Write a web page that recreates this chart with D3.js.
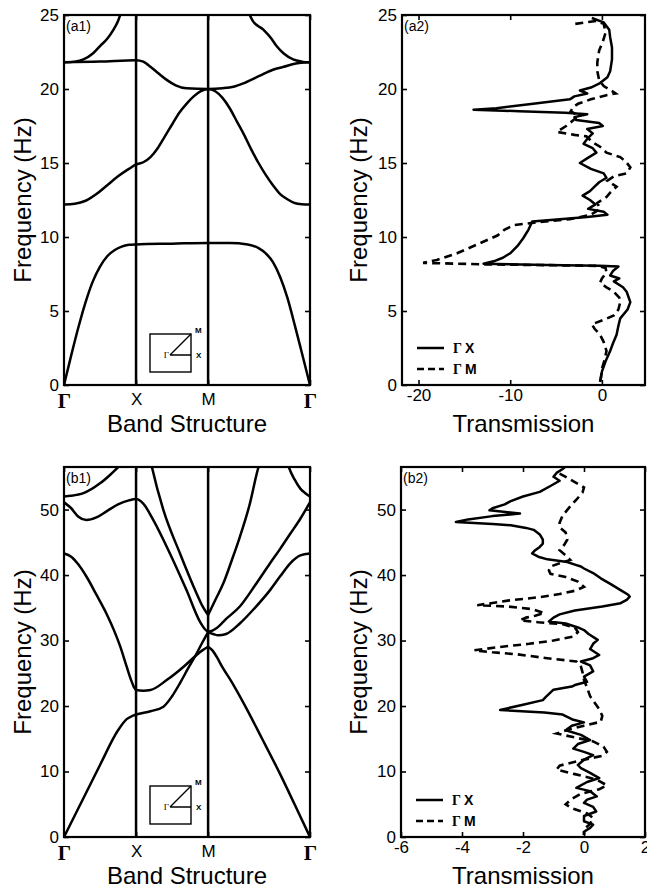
<!DOCTYPE html>
<html>
<head>
<meta charset="utf-8">
<script src="https://cdn.jsdelivr.net/npm/d3@7"></script>
<style>
body { margin: 0; background: #fff; }
</style>
</head>
<body>
<div id="chart"></div>
<script>
// ---- tick data ----
var kTicks = [0, 1, 2, 2 + Math.SQRT2];
var kLabels = ["Γ", "X", "M", "Γ"];
var freqTicksA = [0, 5, 10, 15, 20, 25];
var freqTicksB = [0, 10, 20, 30, 40, 50];
var transTicksA = [-20, -10, 0];
var transTicksB = [-6, -4, -2, 0, 2];

// ---- band structure (a1): [k-path, frequency] ----
var bandA1 = [[0,0],[0.1,2.0],[0.2,3.9],[0.3,5.6],[0.4,7.0],[0.5,8.0],[0.6,8.7],[0.7,9.1],[0.8,9.35],[0.9,9.47],[1,9.5],[1.5,9.55],[2,9.6],[2.3,9.6],[2.55,9.5],[2.7,9.25],[2.8,8.9],[2.9,8.3],[3.0,7.3],[3.1,5.9],[3.2,4.1],[3.3,2.2],[3.414,0]];
var bandA2 = [[0,12.2],[0.15,12.25],[0.3,12.45],[0.45,12.9],[0.6,13.5],[0.75,14.1],[0.9,14.6],[1,14.9],[1.1,15.05],[1.2,15.4],[1.3,16.0],[1.4,16.8],[1.5,17.6],[1.6,18.4],[1.7,19.0],[1.8,19.5],[1.9,19.85],[2,20.0],[2.1,19.85],[2.2,19.4],[2.3,18.7],[2.4,17.8],[2.5,16.9],[2.6,15.9],[2.7,15.0],[2.8,14.2],[2.9,13.5],[3.0,12.9],[3.1,12.55],[3.2,12.3],[3.3,12.22],[3.414,12.2]];
var bandA3 = [[0,21.8],[0.5,21.85],[1,21.95],[1.1,21.85],[1.2,21.5],[1.3,21.1],[1.43,20.6],[1.55,20.25],[1.7,20.05],[2,20.0],[2.2,20.05],[2.35,20.15],[2.5,20.4],[2.72,20.9],[2.9,21.3],[3.05,21.5],[3.2,21.7],[3.414,21.8]];
var bandA4 = [[0,21.8],[0.15,21.85],[0.27,22.0],[0.4,22.4],[0.5,22.9],[0.6,23.4],[0.685,24.0],[0.75,24.6],[0.8,25.3]];
var bandA5 = [[2.55,25.3],[2.62,24.6],[2.77,24.0],[2.88,23.4],[2.95,22.9],[3.05,22.4],[3.18,22.0],[3.3,21.85],[3.414,21.8]];

// ---- band structure (b1) ----
var bandB1 = [[0,0],[0.25,5.5],[0.5,11.0],[0.75,16.3],[0.87,18.0],[0.95,18.5],[1,18.7],[1.2,19.2],[1.38,19.9],[1.5,21.5],[1.61,23.5],[1.72,25.7],[1.84,28.0],[1.92,29.7],[2,31.3]];
var bandB2 = [[0,43.3],[0.1,42.8],[0.2,41.6],[0.315,39.7],[0.45,37.0],[0.59,34.1],[0.7,31.4],[0.78,29.1],[0.87,26.0],[0.93,24.0],[0.97,22.9],[1,22.45],[1.1,22.35],[1.2,22.45],[1.43,24.0],[1.66,26.0],[1.84,27.8],[1.92,28.5],[2,29.05]];
var bandB3 = [[0,51.1],[0.1,50.2],[0.2,48.9],[0.31,48.4],[0.45,48.8],[0.6,49.8],[0.75,50.8],[0.9,51.4],[1,51.6],[1.1,50.9],[1.24,48.4],[1.47,43.3],[1.7,37.7],[1.89,32.8],[1.95,31.8],[2,31.3]];
var bandB4 = [[0,52.0],[0.1,52.1],[0.27,52.5],[0.5,54.0],[0.65,55.4],[0.8,57.0]];
var bandB5 = [[1.2,57.5],[1.22,56.5],[1.38,49.9],[1.61,43.3],[1.84,37.2],[1.92,35.3],[2,33.9]];
var bandB6 = [[2,33.9],[2.1,36.2],[2.21,38.7],[2.33,42.3],[2.44,45.8],[2.57,50.5],[2.7,56.5],[2.72,57.2]];
var bandB7 = [[2,31.3],[2.06,31.5],[2.12,31.9],[2.25,33.3],[2.44,35.2],[2.65,38.4],[2.86,41.8],[3.0,44.0],[3.14,46.3],[3.28,48.6],[3.414,51.1]];
var bandB8 = [[2,31.3],[2.07,31.0],[2.14,30.8],[2.25,31.0],[2.44,32.6],[2.65,35.0],[2.86,37.7],[3.0,39.8],[3.14,41.8],[3.28,43.0],[3.414,43.3]];
var bandB9 = [[3.1,57.2],[3.12,56.5],[3.2,54.6],[3.28,53.2],[3.35,52.5],[3.414,52.0]];
var bandB10 = [[2,29.05],[2.06,28.5],[2.12,27.5],[2.2,25.9],[2.31,24.0],[2.5,20.3],[2.75,15.0],[3.0,9.6],[3.2,5.0],[3.414,0]];

// ---- transmission (a2): [frequency, transmission] ----
var transA_GX = [[24.8,-1.1],[24.5,0.2],[24.0,0.8],[23.5,0.9],[22.8,1.1],[22.0,1.1],[21.2,0.9],[20.8,0.6],[20.4,-0.2],[20.1,-1.2],[19.9,-2.4],[19.7,-1.6],[19.5,-3.0],[19.3,-3.5],[19.0,-7.5],[18.7,-11.5],[18.6,-14.0],[18.5,-9.0],[18.4,-4.0],[18.3,-1.6],[18.1,-3.0],[17.9,-2.8],[17.7,-0.3],[17.5,0.1],[17.3,-1.6],[17.0,-1.0],[16.7,-1.5],[16.3,-2.0],[16.0,-1.0],[15.7,-0.6],[15.4,-1.4],[15.0,-2.4],[14.6,-1.2],[14.3,0.2],[14.0,0.5],[13.7,-0.3],[13.4,-0.8],[13.1,-1.3],[12.8,-2.1],[12.5,-1.3],[12.2,-0.7],[11.9,-1.5],[11.7,0.2],[11.5,0.6],[11.35,-1.6],[11.05,-7.6],[10.5,-8.0],[9.9,-8.6],[9.4,-9.2],[8.9,-10.0],[8.6,-10.8],[8.4,-11.6],[8.2,-12.9],[8.1,-6.0],[8.05,-0.3],[8.0,1.8],[7.7,1.2],[7.4,0.9],[7.2,1.9],[7.0,1.3],[6.6,2.3],[6.3,2.7],[5.6,3.1],[5.1,2.8],[4.5,2.0],[4.0,1.8],[3.4,1.6],[2.8,1.2],[2.3,0.9],[1.6,0.4],[0.9,0.0],[0.2,-0.2]];
var transA_GM = [[24.4,-2.9],[24.5,-1.8],[24.6,-0.6],[24.4,0.2],[23.8,0.4],[23.2,0.1],[22.6,-0.3],[21.8,-0.5],[21.2,-0.5],[20.6,-0.3],[20.2,0.2],[19.9,1.0],[19.7,1.5],[19.6,0.6],[19.3,-1.2],[19.0,-2.6],[18.8,-3.1],[18.5,-3.4],[18.2,-2.6],[17.9,-3.1],[17.5,-3.9],[17.1,-4.9],[16.9,-3.0],[16.8,-1.7],[16.4,-1.0],[16.1,-0.2],[15.7,0.5],[15.4,2.0],[15.1,2.6],[14.7,3.1],[14.3,2.7],[14.1,1.3],[13.8,0.6],[13.4,1.6],[13.0,0.9],[12.7,0.5],[12.3,-0.5],[11.9,-0.2],[11.5,-1.2],[11.2,-3.5],[11.0,-7.0],[10.8,-9.6],[10.5,-10.6],[10.1,-11.4],[9.5,-13.6],[8.9,-15.8],[8.45,-18.0],[8.25,-19.5],[8.2,-16.0],[8.15,-12.6],[8.1,-6.0],[8.05,-0.5],[7.9,0.4],[7.6,0.5],[7.2,0.0],[6.9,-0.2],[6.6,0.5],[6.3,1.3],[5.9,1.9],[5.6,2.0],[5.1,1.8],[4.7,1.3],[4.4,0.2],[4.1,-1.1],[3.8,-0.8],[3.4,-0.2],[2.9,0.2],[2.3,0.5],[1.7,0.3],[1.1,0.0],[0.5,-0.1],[0.2,-0.2]];

// ---- transmission (b2) ----
var transB_GX = [[57,-0.5],[56.2,-0.7],[55.6,-0.9],[55.0,-1.0],[54.4,-0.8],[53.6,-1.1],[52.7,-1.45],[52.0,-2.0],[51.3,-2.4],[50.8,-2.6],[50.2,-3.0],[49.9,-3.1],[49.6,-2.5],[49.4,-2.1],[49.0,-3.0],[48.5,-3.8],[48.1,-4.2],[47.8,-3.0],[47.6,-2.4],[47.2,-1.9],[46.9,-1.65],[46.2,-1.45],[45.4,-1.35],[44.8,-1.35],[44.3,-1.45],[43.8,-1.6],[43.3,-1.7],[42.8,-1.5],[42.4,-1.2],[42.0,-0.55],[41.6,-0.3],[41.3,-0.1],[41.0,0.0],[40.3,0.3],[39.5,0.55],[38.7,0.85],[37.7,1.2],[37.0,1.45],[36.7,1.5],[36.2,1.4],[35.7,1.2],[35.2,0.6],[34.6,-0.3],[34.0,-0.8],[33.5,-1.0],[32.9,-1.15],[32.6,-0.6],[32.0,-0.2],[31.6,0.0],[31.0,0.15],[30.1,0.45],[29.5,0.3],[28.7,0.2],[27.8,0.5],[27.3,0.3],[26.8,-0.1],[26.2,0.2],[25.3,0.3],[24.5,0.0],[23.7,0.1],[23.2,-0.3],[22.97,-0.4],[22.5,-1.0],[21.4,-1.25],[20.9,-1.35],[20.2,-2.0],[19.4,-2.75],[19.0,-1.3],[18.7,-0.7],[17.9,-0.35],[17.5,0.0],[17.0,-0.4],[16.3,-0.6],[15.6,-0.1],[14.8,0.2],[14.2,-0.2],[13.5,-0.35],[13.0,0.0],[12.5,0.3],[11.8,0.0],[11.0,-0.2],[10.5,-0.1],[9.8,0.2],[9.0,0.5],[8.4,0.1],[7.5,-0.25],[7.0,0.2],[6.2,0.42],[5.7,0.1],[5.2,0.0],[4.6,0.3],[3.9,0.4],[3.2,0.0],[2.4,0.0],[1.9,0.3],[1.4,0.2],[0.8,0.0],[0.3,0.0]];
var transB_GM = [[55.5,-0.8],[55.0,-0.6],[54.2,-0.3],[53.4,0.0],[52.6,-0.05],[51.5,-0.25],[50.5,-0.45],[49.1,-0.7],[48.0,-0.8],[47.3,-0.8],[46.5,-0.6],[45.4,-0.55],[44.6,-0.65],[43.8,-0.8],[43.0,-0.6],[42.3,-0.45],[41.8,-0.8],[41.3,-1.1],[40.7,-1.15],[40.2,-1.1],[39.7,-0.6],[39.0,-0.2],[38.2,0.0],[37.6,-0.3],[37.1,-0.8],[36.6,-1.5],[36.1,-2.5],[35.6,-3.2],[35.4,-3.5],[35.2,-2.5],[34.8,-1.7],[34.2,-1.3],[33.8,-1.6],[33.5,-1.9],[33.1,-2.1],[32.8,-1.5],[32.5,-0.7],[32.0,-0.3],[31.3,-0.2],[30.6,-0.35],[30.0,-1.0],[29.5,-1.8],[29.0,-2.8],[28.5,-3.6],[28.2,-3.0],[27.9,-2.2],[27.3,-1.2],[26.8,-0.25],[26.0,-0.1],[25.2,-0.05],[24.0,0.0],[22.8,0.1],[21.5,0.2],[20.5,0.35],[19.5,0.5],[18.5,0.6],[17.6,0.55],[17.0,0.0],[16.4,-0.5],[15.8,-0.9],[15.3,-0.4],[14.6,0.3],[13.8,0.64],[13.0,0.75],[12.4,0.6],[11.6,-0.2],[10.9,-0.8],[10.3,-0.9],[9.6,-0.3],[8.8,0.4],[7.9,0.75],[7.3,0.5],[6.6,-0.1],[5.8,-0.4],[5.0,-0.6],[4.4,-0.4],[3.6,0.1],[2.9,0.3],[2.0,0.2],[1.2,0.0],[0.3,0.0]];

var SANS = '"Liberation Sans", Arial, Helvetica, sans-serif';
var SERIF = '"Liberation Serif", "Times New Roman", serif';

var svg = d3.select("#chart").append("svg")
  .attr("width", 647)
  .attr("height", 888);

function styleAxis(sel, size) {
  sel.select(".domain").remove();
  sel.selectAll(".tick line").attr("stroke", "#000").attr("stroke-width", 1.6);
  sel.selectAll(".tick text")
    .attr("fill", "#000")
    .attr("font-family", SANS)
    .attr("font-size", size);
}

// plain hyphen for negative tick labels, like the original figure
function plainNum(d) { return String(d); }

function drawPanel(cfg) {
  var g = svg.append("g").attr("transform", "translate(" + cfg.left + "," + cfg.top + ")");
  var w = cfg.width, h = cfg.height;
  var x = d3.scaleLinear().domain(cfg.xDomain).range([0, w]);
  var y = d3.scaleLinear().domain(cfg.yDomain).range([h, 0]);

  svg.append("clipPath").attr("id", "clip-" + cfg.id)
    .append("rect").attr("width", w).attr("height", h);
  var plot = g.append("g").attr("clip-path", "url(#clip-" + cfg.id + ")");

  if (cfg.bands) {
    // vertical lines at X and M
    plot.selectAll("line.sym")
      .data(kTicks.slice(1, 3))
      .enter().append("line")
      .attr("x1", function(d) { return x(d); })
      .attr("x2", function(d) { return x(d); })
      .attr("y1", 0).attr("y2", h)
      .attr("stroke", "#000").attr("stroke-width", 2.5);

    var bandLine = d3.line()
      .x(function(d) { return x(d[0]); })
      .y(function(d) { return y(d[1]); })
      .curve(d3.curveMonotoneX);
    plot.selectAll("path.band")
      .data(cfg.bands)
      .enter().append("path")
      .attr("d", bandLine)
      .attr("fill", "none").attr("stroke", "#000").attr("stroke-width", 2.5)
      .attr("stroke-linejoin", "round");

    // little Brillouin-zone inset
    var ins = g.append("g").attr("transform", "translate(86,319)");
    ins.append("rect").attr("width", 41).attr("height", 38)
      .attr("fill", "none").attr("stroke", "#000").attr("stroke-width", 1.4);
    ins.append("path").attr("d", "M20,21 L41,21 M20,21 L41,0")
      .attr("fill", "none").attr("stroke", "#000").attr("stroke-width", 1.4);
    ins.append("text").attr("x", 19).attr("y", 24).attr("text-anchor", "end")
      .attr("font-family", SERIF).attr("font-size", 9).text("Γ");
    ins.append("text").attr("x", 45).attr("y", -1)
      .attr("font-family", SANS).attr("font-weight", "bold").attr("font-size", 8).text("M");
    ins.append("text").attr("x", 46).attr("y", 24)
      .attr("font-family", SANS).attr("font-weight", "bold").attr("font-size", 8).text("X");
  }

  if (cfg.trans) {
    var tLine = d3.line()
      .x(function(d) { return x(d[1]); })
      .y(function(d) { return y(d[0]); });
    plot.append("path").datum(cfg.trans[0])
      .attr("d", tLine)
      .attr("fill", "none").attr("stroke", "#000").attr("stroke-width", 2.5)
      .attr("stroke-linejoin", "round");
    plot.append("path").datum(cfg.trans[1])
      .attr("d", tLine)
      .attr("fill", "none").attr("stroke", "#000").attr("stroke-width", 2.6)
      .attr("stroke-dasharray", "8,5");

    // legend
    var lg = g.append("g").attr("transform", "translate(15," + (h - 37) + ")");
    lg.append("line").attr("x1", 0).attr("x2", 27).attr("y1", 0).attr("y2", 0)
      .attr("stroke", "#000").attr("stroke-width", 2.5);
    lg.append("line").attr("x1", 0).attr("x2", 27).attr("y1", 21).attr("y2", 21)
      .attr("stroke", "#000").attr("stroke-width", 2.6).attr("stroke-dasharray", "7,4");
    [["X", 0], ["M", 21]].forEach(function(it) {
      var t = lg.append("text").attr("x", 36).attr("y", it[1] + 5).attr("font-size", 14);
      t.append("tspan").attr("font-family", SERIF).attr("font-weight", "bold").text("Γ");
      t.append("tspan").attr("font-family", SANS).attr("font-weight", "bold").attr("dx", 3).text(it[0]);
    });
  }

  // axes: ticks inward on all four sides
  var bottom = d3.axisBottom(x).tickValues(cfg.xTicks).tickSize(-5).tickPadding(cfg.bands ? 8 : 4);
  if (cfg.xLabels) bottom.tickFormat(function(d, i) { return cfg.xLabels[i]; });
  else bottom.tickFormat(plainNum);
  var gb = g.append("g").attr("transform", "translate(0," + h + ")").call(bottom);
  styleAxis(gb, 17);
  gb.selectAll(".tick text").filter(function() { return this.textContent === "Γ"; })
    .attr("font-family", SERIF).attr("font-weight", "bold").attr("font-size", 21);

  var gt = g.append("g").call(d3.axisTop(x).tickValues(cfg.xTicks).tickSize(-5).tickFormat(""));
  styleAxis(gt, 17);

  var gl = g.append("g").call(d3.axisLeft(y).tickValues(cfg.yTicks).tickSize(-5).tickPadding(5).tickFormat(plainNum));
  styleAxis(gl, 17);
  var gr = g.append("g").attr("transform", "translate(" + w + ",0)")
    .call(d3.axisRight(y).tickValues(cfg.yTicks).tickSize(-5).tickFormat(""));
  styleAxis(gr, 17);

  g.append("rect").attr("width", w).attr("height", h)
    .attr("fill", "none").attr("stroke", "#000").attr("stroke-width", 2.2);

  // panel tag
  g.append("text").attr("x", 2).attr("y", 16)
    .attr("font-family", SANS).attr("font-size", 14).text(cfg.tag);

  // axis titles
  g.append("text")
    .attr("transform", "translate(" + cfg.yTitleX + "," + (h / 2) + ") rotate(-90)")
    .attr("text-anchor", "middle")
    .attr("font-family", SANS).attr("font-size", 24)
    .text("Frequency (Hz)");
  g.append("text")
    .attr("x", w / 2).attr("y", h + 47)
    .attr("text-anchor", "middle")
    .attr("font-family", SANS).attr("font-size", 24)
    .text(cfg.xTitle);
}

drawPanel({
  id: "a1", tag: "(a1)", left: 64, top: 15, width: 246, height: 370,
  xDomain: [0, 2 + Math.SQRT2], yDomain: [0, 25],
  xTicks: kTicks, xLabels: kLabels, yTicks: freqTicksA,
  bands: [bandA1, bandA2, bandA3, bandA4, bandA5],
  xTitle: "Band Structure", yTitleX: -33
});
drawPanel({
  id: "a2", tag: "(a2)", left: 402, top: 15, width: 243, height: 370,
  xDomain: [-21.8, 4.7], yDomain: [0, 25],
  xTicks: transTicksA, yTicks: freqTicksA,
  trans: [transA_GX, transA_GM],
  xTitle: "Transmission", yTitleX: -35
});
drawPanel({
  id: "b1", tag: "(b1)", left: 64, top: 467, width: 246, height: 370,
  xDomain: [0, 2 + Math.SQRT2], yDomain: [0, 56.5],
  xTicks: kTicks, xLabels: kLabels, yTicks: freqTicksB,
  bands: [bandB1, bandB2, bandB3, bandB4, bandB5, bandB6, bandB7, bandB8, bandB9, bandB10],
  xTitle: "Band Structure", yTitleX: -33
});
drawPanel({
  id: "b2", tag: "(b2)", left: 401, top: 467, width: 244, height: 370,
  xDomain: [-6, 2], yDomain: [0, 56.5],
  xTicks: transTicksB, yTicks: freqTicksB,
  trans: [transB_GX, transB_GM],
  xTitle: "Transmission", yTitleX: -34
});
</script>
</body>
</html>
